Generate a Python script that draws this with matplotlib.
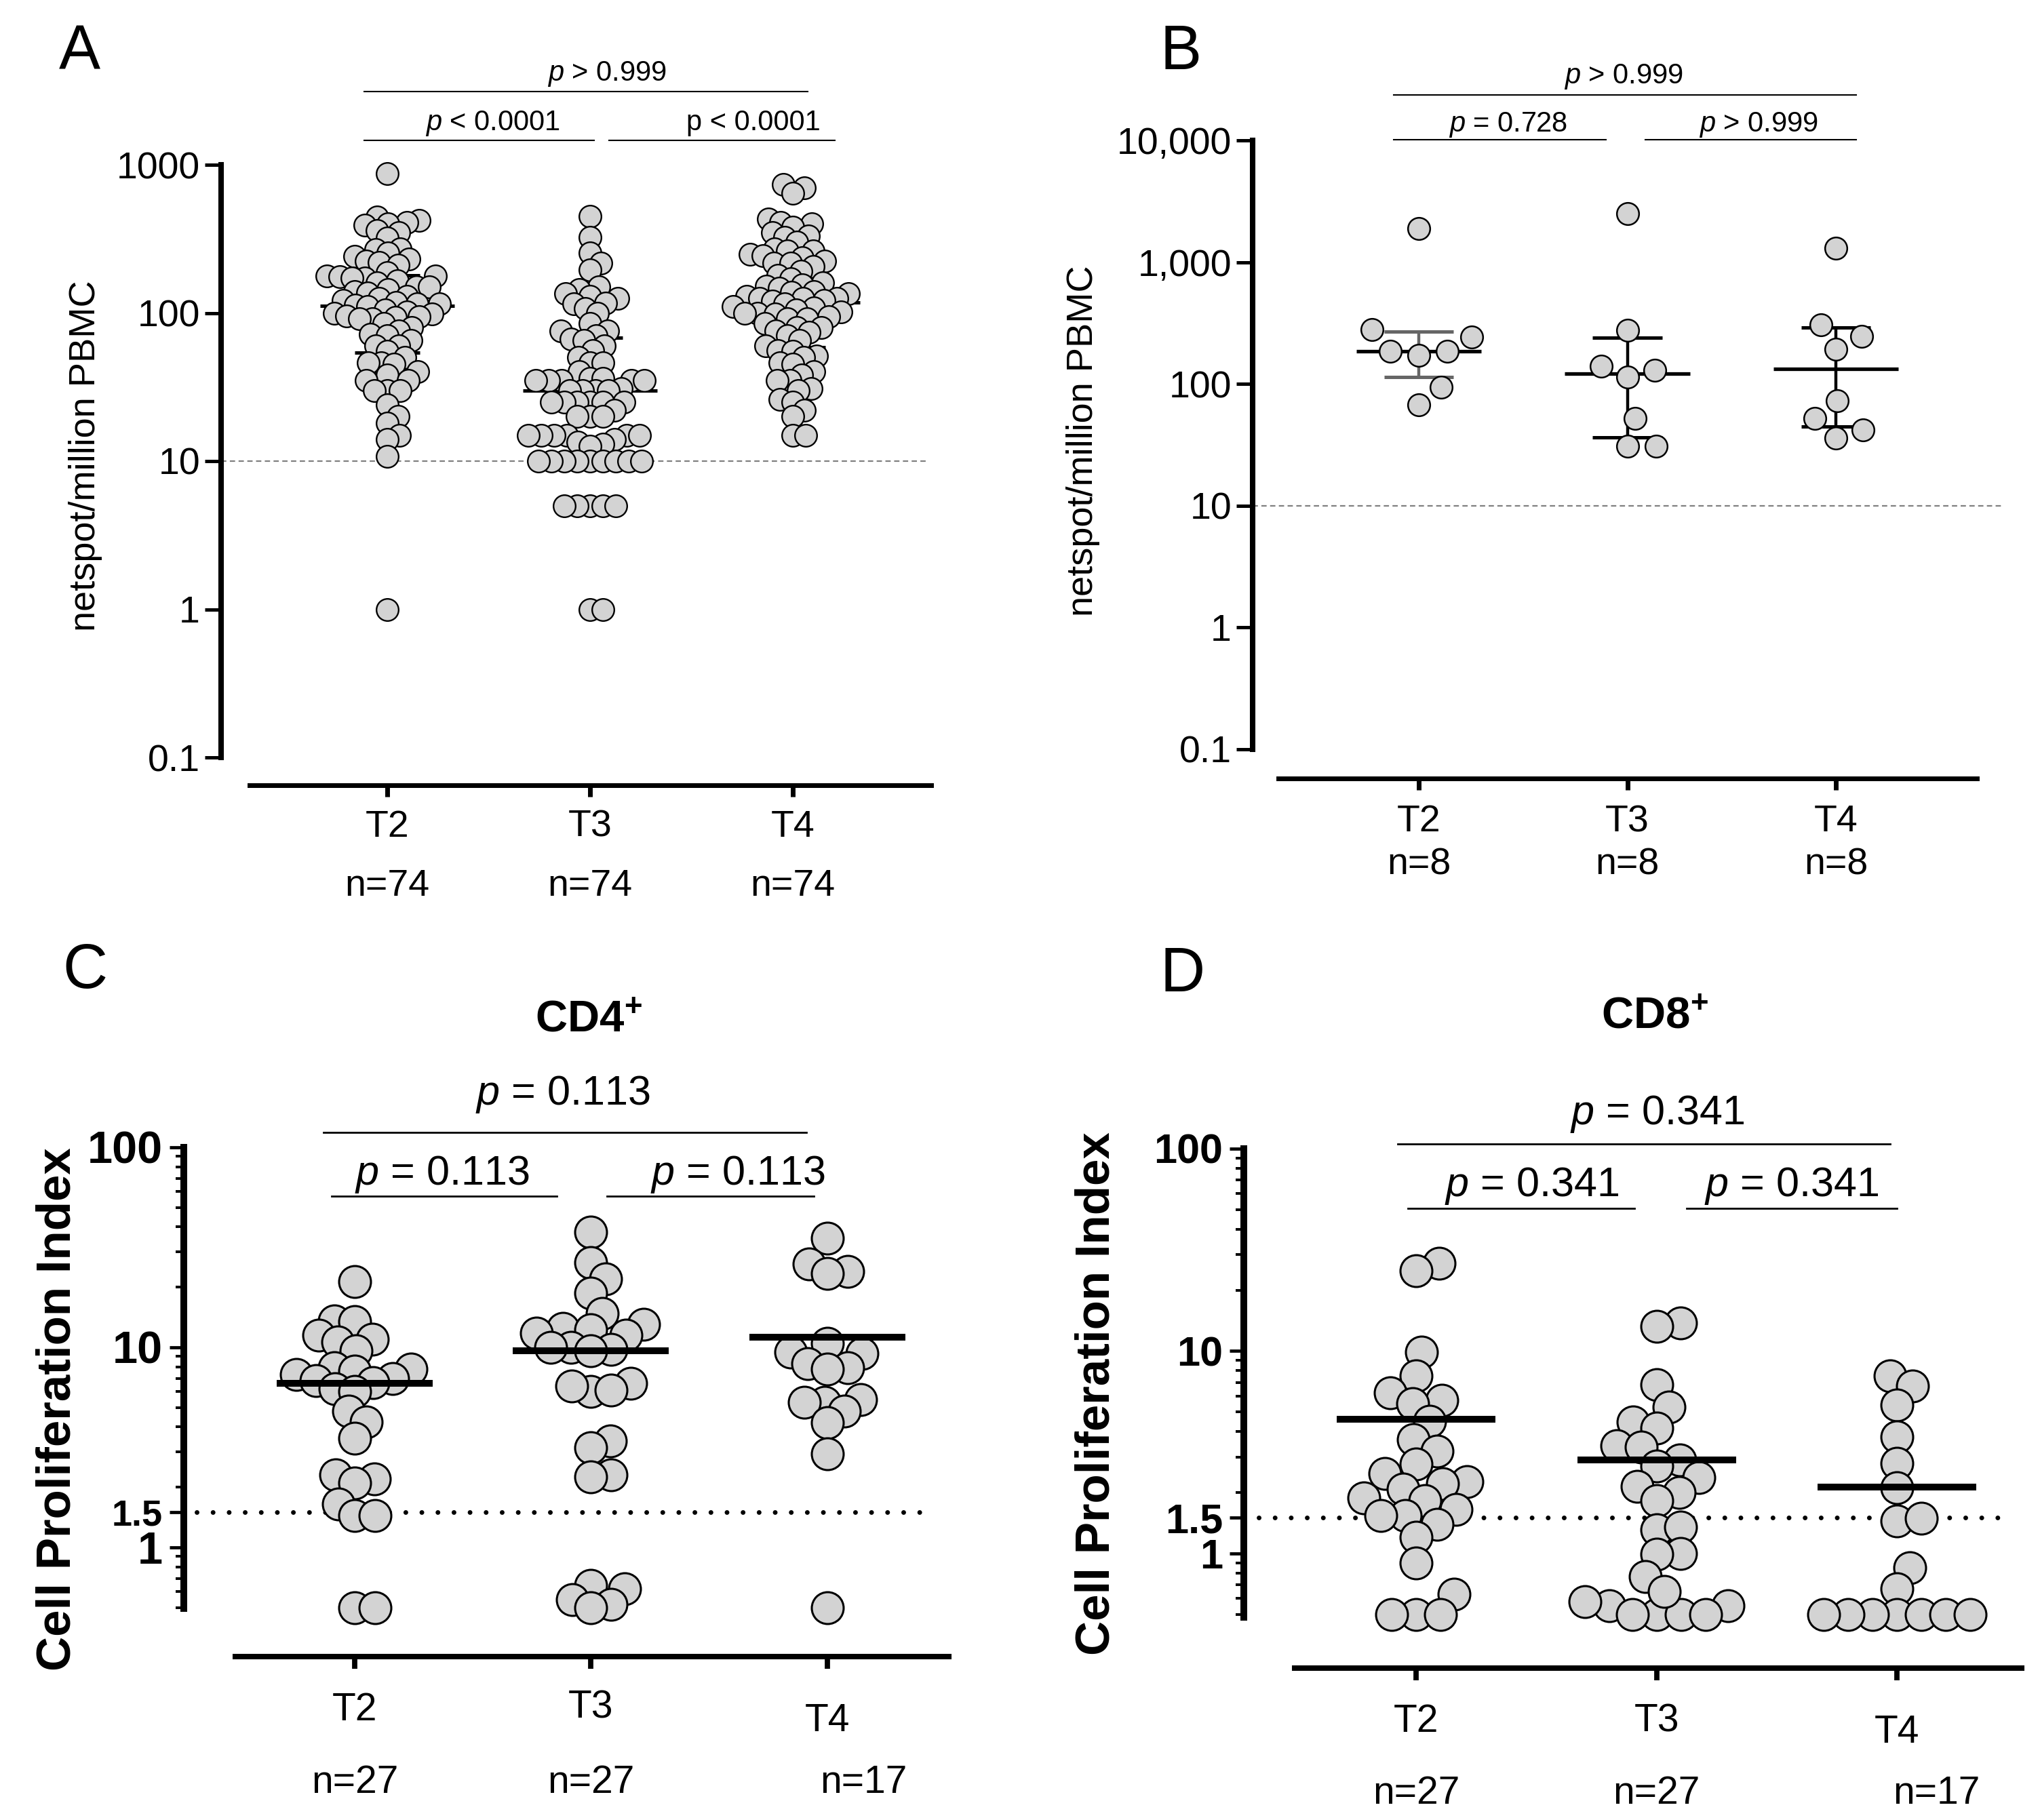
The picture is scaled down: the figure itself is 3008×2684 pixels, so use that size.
import numpy as np
import matplotlib
matplotlib.use('Agg')
import matplotlib.pyplot as plt
from matplotlib.lines import Line2D
from matplotlib.transforms import blended_transform_factory
from matplotlib.ticker import FixedLocator, FixedFormatter, NullLocator

plt.rcParams['font.family'] = ['Liberation Sans', 'DejaVu Sans']
plt.rcParams['mathtext.fontset'] = 'custom'
plt.rcParams['mathtext.rm'] = 'Liberation Sans'
plt.rcParams['mathtext.it'] = 'Liberation Sans:italic'
plt.rcParams['mathtext.bf'] = 'Liberation Sans:bold'

# ---------------- data ----------------
groups = ['T2', 'T3', 'T4']

a_n = ['n=74', 'n=74', 'n=74']
a_t2 = [870, 444, 422, 408, 400, 390, 360, 347, 320,
        270, 268, 254, 240, 231, 224, 219, 210,
        187, 178, 178, 176, 172, 172, 165, 160, 150, 150,
        144, 139, 136, 130, 125, 122, 118, 115, 115, 113, 110,
        105, 102, 100, 98, 95, 94, 93, 91, 91, 85, 80,
        76, 72, 70, 65, 60, 60, 55, 50,
        46, 46, 45, 40, 38, 35, 35, 30, 30, 30,
        24, 20, 18, 15, 14, 10.8, 1.0]
a_t3 = [449, 324, 254, 217, 195,
        150, 144, 135, 129, 125, 117, 115, 107, 100, 85,
        76, 76, 70, 67, 65, 60, 56, 50, 46, 46,
        40, 36, 36, 35, 35, 35, 35, 35, 31, 30, 30, 30, 30,
        25, 25, 25, 25, 25, 25, 22, 20, 20, 20,
        15, 15, 15, 15, 15, 15, 14, 13.4, 13, 12.6,
        10, 10, 10, 10, 10, 10, 10, 10, 10,
        5, 5, 5, 5, 5,
        1, 1]
a_t4 = [736, 700, 642,
        430, 408, 400, 379, 349, 330, 324, 301,
        270, 262, 262, 250, 244, 236, 225, 217, 216, 205,
        191, 180, 170, 160, 155, 152, 147, 139, 138, 135,
        129, 125, 125, 125, 122, 120, 115, 110, 108,
        105, 102, 100, 100, 98, 94, 91, 91, 85, 80, 80,
        76, 74, 70, 65, 60, 56, 55, 51, 50, 46, 45,
        40, 38, 35, 35, 31, 30, 26, 25,
        22, 20, 15, 15]
a_ticks = [0.1, 1, 10, 100, 1000]
a_ticklabels = ['0.1', '1', '10', '100', '1000']
a_pvals = [r'$p$ > 0.999', r'$p$ < 0.0001', 'p < 0.0001']

b_n = ['n=8', 'n=8', 'n=8']
b_t2 = [1900, 278, 242, 185, 185, 171, 94, 67]
b_t3 = [2500, 275, 140, 129, 114, 52, 31, 31]
b_t4 = [1300, 304, 245, 192, 73, 52, 42, 36]
b_ticks = [0.1, 1, 10, 100, 1000, 10000]
b_ticklabels = ['0.1', '1', '10', '100', '1,000', '10,000']
b_pvals = [r'$p$ > 0.999', r'$p$ = 0.728', r'$p$ > 0.999']

c_n = ['n=27', 'n=27', 'n=17']
c_t2 = [21.4, 13.6, 13.4, 11.5, 11.0, 10.6, 9.6, 7.9, 7.8, 7.6, 7.3, 7.0, 6.8,
        6.65, 6.2, 6.0, 4.8, 4.25, 3.5, 2.3, 2.2, 2.1, 1.65, 1.44, 1.44, 0.5, 0.5]
c_t3 = [37.8, 26.5, 22, 18.7, 14.8, 13, 12.4, 12.2, 11.8, 11.5, 10, 10, 9.8, 9.6,
        6.6, 6.0, 6.1, 6.4, 3.4, 3.14, 2.3, 2.25, 0.645, 0.62, 0.52, 0.55, 0.5]
c_t4 = [35, 26.2, 24, 23.5, 10.5, 9.5, 9.3, 8.3, 7.9, 7.8, 5.5, 5.3, 5.3, 4.8,
        4.2, 2.93, 0.5]
cd_ticks = [1, 1.5, 10, 100]
cd_ticklabels = ['1', '1.5', '10', '100']
c_pvals = [r'$p$ = 0.113', r'$p$ = 0.113', r'$p$ = 0.113']

d_n = ['n=27', 'n=27', 'n=17']
d_t2 = [27.2, 24.9, 9.9, 7.55, 6.2, 5.7, 5.5, 4.5, 3.65, 3.2, 2.77, 2.48, 2.26,
        2.21, 2.08, 1.88, 1.82, 1.54, 1.54, 1.65, 1.39, 1.2, 0.9, 0.63, 0.5, 0.5, 0.5]
d_t3 = [13.8, 13.2, 6.8, 5.3, 4.47, 4.17, 3.4, 3.36, 2.9, 2.7, 2.37, 2.15, 2.0,
        1.82, 1.31, 1.35, 1.0, 0.99, 0.77, 0.5, 0.55, 0.58, 0.5, 0.55, 0.5, 0.5, 0.65]
d_t4 = [7.55, 6.7, 5.4, 3.77, 2.79, 2.11, 1.45, 1.49, 0.85, 0.67, 0.5, 0.5, 0.5,
        0.5, 0.5, 0.5, 0.5]
d_pvals = [r'$p$ = 0.341', r'$p$ = 0.341', r'$p$ = 0.341']

# ---------------- figure helpers ----------------
W, H, DPI = 3008, 2684, 200
PT = 72.0 / DPI
FILL = '#d3d3d3'

fig = plt.figure(figsize=(W / DPI, H / DPI), dpi=DPI)
fig.patch.set_facecolor('white')


def fx(x):
    return x / W


def fy(y):
    return 1 - y / H


def add_ax(l, t, r, b):
    return fig.add_axes([fx(l), fy(b), (r - l) / W, (b - t) / H])


def ftext(x, y, s, **kw):
    fig.text(fx(x), fy(y), s, **kw)


def fline(x1, x2, y, lw):
    fig.add_artist(Line2D([fx(x1), fx(x2)], [fy(y), fy(y)], color='black',
                          lw=lw, transform=fig.transFigure))


def setup(ax, xlim, ylim, left_out, bottom_out, lw_left, lw_bottom):
    ax.set_yscale('log')
    ax.set_xlim(*xlim)
    ax.set_ylim(*ylim)
    for s in ['top', 'right']:
        ax.spines[s].set_visible(False)
    ax.spines['left'].set_position(('outward', left_out * PT))
    ax.spines['bottom'].set_position(('outward', bottom_out * PT))
    ax.spines['left'].set_linewidth(lw_left)
    ax.spines['bottom'].set_linewidth(lw_bottom)
    ax.patch.set_visible(False)
    ax.set_xticks([0, 1, 2])
    ax.set_xticklabels([])


def swarm(ax, xc, vals, d):
    vals = np.asarray(vals, float)
    pts = ax.transData.transform(np.column_stack([np.full(len(vals), xc), vals]))
    ys = pts[:, 1]
    x0 = pts[0, 0]
    order = np.argsort(ys, kind='stable')
    px, py = [], []
    off = np.zeros(len(vals))
    for i in order:
        y = ys[i]
        cands = [0.0]
        for a, b in zip(px, py):
            dy = y - b
            if abs(dy) < d:
                dx = np.sqrt(d * d - dy * dy)
                cands.extend([a + dx, a - dx])
        cands = sorted(cands, key=lambda c: (round(abs(c), 4), -c))
        chosen = 0.0
        for c in cands:
            ok = True
            for a, b in zip(px, py):
                if (c - a) ** 2 + (y - b) ** 2 < d * d - 1e-6:
                    ok = False
                    break
            if ok:
                chosen = c
                break
        off[i] = chosen
        px.append(chosen)
        py.append(y)
    inv = ax.transData.inverted()
    return inv.transform(np.column_stack([x0 + off, ys]))[:, 0]


def cat_labels(ax, names, ns, y_name, y_n, size, name_dy=(0, 0, 0), n_dx=(0, 0, 0)):
    tr = blended_transform_factory(ax.transData, fig.transFigure)
    ppu = ax.transData.transform([[1, 1]])[0, 0] - ax.transData.transform([[0, 1]])[0, 0]
    for i, (nm, n) in enumerate(zip(names, ns)):
        ax.text(i, fy(y_name + name_dy[i]), nm, transform=tr, ha='center',
                va='baseline', fontsize=size)
        ax.text(i + n_dx[i] / ppu, fy(y_n), n, transform=tr, ha='center',
                va='baseline', fontsize=size)


# ---------------- Panel A ----------------
axA = add_ax(368, 243, 1373, 1117)
setup(axA, (-0.679, 2.682), (0.1, 1000), 42, 41, 2.9, 2.5)
axA.yaxis.set_major_locator(FixedLocator(a_ticks))
axA.yaxis.set_major_formatter(FixedFormatter(a_ticklabels))
axA.yaxis.set_minor_locator(NullLocator())
axA.tick_params(axis='y', length=24 * PT, width=1.8, pad=2.5, labelsize=20)
axA.tick_params(axis='x', length=17 * PT, width=2.5)
axA.plot([-0.0418, 0.992], [10, 10], transform=blended_transform_factory(axA.transAxes, axA.transData),
         color='#808080', lw=0.8, ls=(0, (3.5, 2.3)), clip_on=False, zorder=1)
for i, vals in enumerate([a_t2, a_t3, a_t4]):
    xs = swarm(axA, i, vals, 19)
    med = np.median(vals)
    q1, q3 = np.percentile(vals, [25, 75], method='weibull')
    axA.hlines(med, i - 0.33, i + 0.33, color='black', lw=1.8, zorder=2)
    axA.hlines([q1, q3], i - 0.16, i + 0.16, color='black', lw=1.8, zorder=2)
    axA.scatter(xs, vals, s=138, facecolor=FILL, edgecolor='black', lw=0.85,
                zorder=3, clip_on=False)
cat_labels(axA, groups, a_n, 1234, 1321, 20)
ftext(87, 102, 'A', fontsize=33, va='baseline', ha='left')
ftext(126, 672, 'netspot/million PBMC', fontsize=19.5, rotation=90, ha='center', va='center')
ftext(895, 119, a_pvals[0], fontsize=15, ha='center', va='baseline')
ftext(726, 192, a_pvals[1], fontsize=15, ha='center', va='baseline')
ftext(1111, 192, a_pvals[2], fontsize=15, ha='center', va='baseline')
fline(537, 1191, 135, 0.75)
fline(537, 876, 207, 0.75)
fline(898, 1231, 207, 0.75)

# ---------------- Panel B ----------------
axB = add_ax(1885, 207, 2915, 1105)
setup(axB, (-0.673, 2.676), (0.1, 10000), 38, 43, 2.9, 2.5)
axB.yaxis.set_major_locator(FixedLocator(b_ticks))
axB.yaxis.set_major_formatter(FixedFormatter(b_ticklabels))
axB.yaxis.set_minor_locator(NullLocator())
axB.tick_params(axis='y', length=24 * PT, width=1.8, pad=2.5, labelsize=20)
axB.tick_params(axis='x', length=17 * PT, width=2.5)
axB.plot([-0.0369, 1.036], [10, 10], transform=blended_transform_factory(axB.transAxes, axB.transData),
         color='#808080', lw=0.8, ls=(0, (3.5, 2.3)), clip_on=False, zorder=1)
for i, vals in enumerate([b_t2, b_t3, b_t4]):
    xs = swarm(axB, i, vals, 42)
    med = np.median(vals)
    q1, q3 = np.percentile(vals, [25, 75], method='weibull')
    ecol = '#666666' if i == 0 else 'black'
    axB.vlines(i, q1, q3, color=ecol, lw=1.6, zorder=2)
    axB.hlines([q1, q3], i - 0.166, i + 0.166, color=ecol, lw=1.8, zorder=2)
    axB.hlines(med, i - 0.3, i + 0.3, color='black', lw=1.9, zorder=2)
    axB.scatter(xs, vals, s=138, facecolor=FILL, edgecolor='black', lw=0.9,
                zorder=3, clip_on=False)
cat_labels(axB, groups, b_n, 1226, 1290, 20)
ftext(1711, 102, 'B', fontsize=33, va='baseline', ha='left')
ftext(1597, 650, 'netspot/million PBMC', fontsize=19.5, rotation=90, ha='center', va='center')
ftext(2394, 123, b_pvals[0], fontsize=15, ha='center', va='baseline')
ftext(2224, 194, b_pvals[1], fontsize=15, ha='center', va='baseline')
ftext(2593, 194, b_pvals[2], fontsize=15, ha='center', va='baseline')
fline(2055, 2737, 140, 0.75)
fline(2055, 2368, 206, 0.75)
fline(2426, 2737, 206, 0.75)


# ---------------- Panels C / D ----------------
def cd_panel(rect, xlim, ylim, lout, bout, data, labsize, small15, ref_ext, dsw):
    ax = add_ax(*rect)
    setup(ax, xlim, ylim, lout, bout, 3.6, 2.9)
    ax.yaxis.set_major_locator(FixedLocator(cd_ticks))
    ax.yaxis.set_major_formatter(FixedFormatter(cd_ticklabels))
    minors = [v * m for m in (0.1, 1, 10) for v in range(2, 10)]
    minors = [m for m in minors if ylim[0] <= m <= ylim[1] and abs(m - 1.5) > 1e-9]
    ax.yaxis.set_minor_locator(FixedLocator(minors))
    ax.yaxis.set_minor_formatter(FixedFormatter([''] * len(minors)))
    ax.tick_params(axis='y', which='major', length=21 * PT, width=1.7, pad=3.6,
                   labelsize=labsize)
    ax.tick_params(axis='y', which='minor', length=12 * PT, width=1.4)
    ax.tick_params(axis='x', length=18 * PT, width=2.8)
    for lab in ax.get_yticklabels():
        lab.set_fontweight('bold')
        if lab.get_text() == '1.5':
            lab.set_fontsize(small15)
    ax.plot(ref_ext, [1.5, 1.5], transform=blended_transform_factory(ax.transAxes, ax.transData),
            color='black', lw=2.5, ls=(0, (0.01, 3.4)), dash_capstyle='round',
            clip_on=False, zorder=1)
    for i, vals in enumerate(data):
        xs = swarm(ax, i, vals, dsw)
        ax.scatter(xs, vals, s=286, facecolor=FILL, edgecolor='black', lw=1.1,
                   zorder=3, clip_on=False)
        ax.hlines(np.mean(vals), i - 0.33, i + 0.33, color='black', lw=3.6, zorder=4)
    return ax


axC = cd_panel((347, 1692, 1399, 2372), (-0.505, 2.514), (0.495, 100), 76, 71,
               [c_t2, c_t3, c_t4], 24, 19.5, [-0.054, 0.977], 30)
cat_labels(axC, groups, c_n, 2537, 2644, 20.5, name_dy=(0, -3, 16), n_dx=(0, 0, 53))
ftext(92, 1457, 'C', fontsize=33, va='baseline', ha='left')
ftext(86, 2078, 'Cell Proliferation Index', fontsize=25.5, fontweight='bold',
      rotation=90, ha='center', va='center')
ftext(868, 1522, r'$\mathbf{CD4^{+}}$', fontsize=23.5, ha='center', va='baseline')
ftext(830, 1629, c_pvals[0], fontsize=22, ha='center', va='baseline')
ftext(652, 1747, c_pvals[1], fontsize=22, ha='center', va='baseline')
ftext(1088, 1747, c_pvals[2], fontsize=22, ha='center', va='baseline')
fline(477, 1189, 1670, 1.0)
fline(489, 821, 1764, 1.0)
fline(895, 1200, 1764, 1.0)

axD = cd_panel((1909, 1694, 2981, 2385), (-0.505, 2.519), (0.484, 100), 75, 75,
               [d_t2, d_t3, d_t4], 22, 22, [-0.049, 0.982], 36)
cat_labels(axD, groups, d_n, 2554, 2660, 20.5, name_dy=(0, -1, 16), n_dx=(0, 0, 58))
ftext(1711, 1462, 'D', fontsize=33, va='baseline', ha='left')
ftext(1618, 2055, 'Cell Proliferation Index', fontsize=25.5, fontweight='bold',
      rotation=90, ha='center', va='center')
ftext(2440, 1517, r'$\mathbf{CD8^{+}}$', fontsize=23.5, ha='center', va='baseline')
ftext(2444, 1658, d_pvals[0], fontsize=22, ha='center', va='baseline')
ftext(2259, 1764, d_pvals[1], fontsize=22, ha='center', va='baseline')
ftext(2642, 1764, d_pvals[2], fontsize=22, ha='center', va='baseline')
fline(2061, 2787, 1687, 1.0)
fline(2076, 2410, 1782, 1.0)
fline(2487, 2797, 1782, 1.0)

fig.savefig('out.png', dpi=DPI, facecolor='white')
